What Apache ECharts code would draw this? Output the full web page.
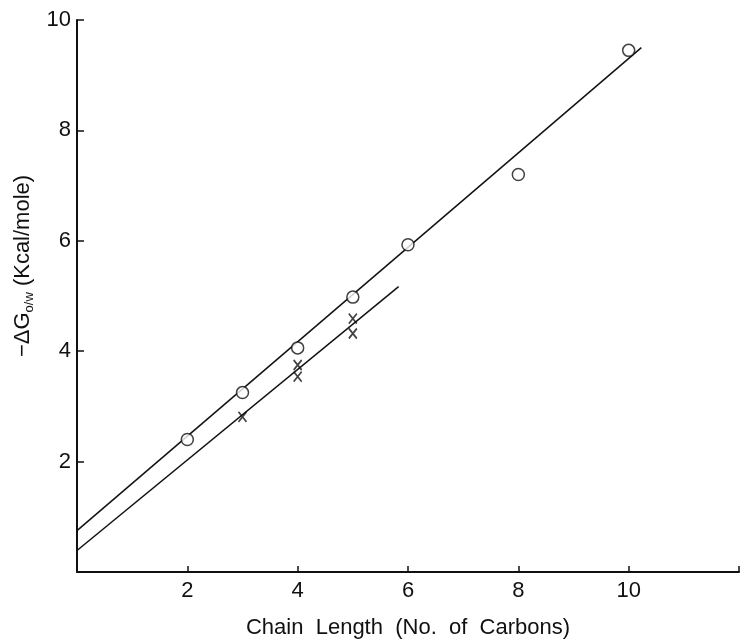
<!DOCTYPE html>
<html>
<head>
<meta charset="utf-8">
<title>Free energy vs chain length</title>
<script src="https://cdn.jsdelivr.net/npm/echarts@6/dist/echarts.min.js"></script>
<style>
  html, body { margin: 0; padding: 0; background: #fff; }
  #chart { width: 742px; height: 644px; }
</style>
</head>
<body>
<div id="chart"></div>
<script>
// circles (o) : chain length vs -dG
const circlePts = [[2, 2.40], [3, 3.25], [4, 4.06], [5, 4.98], [6, 5.93], [8, 7.20], [10, 9.45]];
// crosses (x)
const crossPts = [[3, 2.81], [4, 3.75], [4, 3.54], [5, 4.59], [5, 4.32]];
// hand drawn fit lines (end points)
const upperLine = [[0, 0.75], [10.23, 9.5]];
const lowerLine = [[0, 0.39], [5.83, 5.17]];
const xTicks = [2, 4, 6, 8, 10];
const yTicks = [2, 4, 6, 8, 10];

const ink = '#111';
const font = 'Liberation Sans';

let myChart = echarts.init(document.getElementById('chart'));
let option = {
    backgroundColor: '#fff',
    animation: false,
    grid: { left: 77, right: 1, top: 20, bottom: 71 },
    xAxis: {
        type: 'value',
        min: 0, max: 12, interval: 2,
        name: 'Chain  Length  (No.  of  Carbons)',
        nameLocation: 'middle',
        nameGap: 45,
        nameTextStyle: { fontFamily: font, fontSize: 22, color: ink },
        axisLine: { lineStyle: { color: ink, width: 2 } },
        axisTick: { inside: true, length: 6, lineStyle: { color: ink, width: 1.5 } },
        axisLabel: {
            margin: 8, fontFamily: font, fontSize: 22, color: ink,
            formatter: v => xTicks.indexOf(v) >= 0 ? String(v) : ''
        },
        splitLine: { show: false }
    },
    yAxis: {
        type: 'value',
        min: 0, max: 10, interval: 2,
        name: '{t|−ΔG}{s|o/w}{t| (Kcal/mole)}',
        nameLocation: 'middle',
        nameGap: 33,
        nameTextStyle: {
            padding: [0, 0, 0, 60],
            rich: {
                t: { fontFamily: font, fontSize: 22, color: ink, lineHeight: 26 },
                s: { fontFamily: font, fontSize: 13, color: ink, lineHeight: 26, padding: [12, 0, 0, 0] }
            }
        },
        axisLine: { lineStyle: { color: ink, width: 2 } },
        axisTick: { inside: true, length: 7, lineStyle: { color: ink, width: 1.5 } },
        axisLabel: {
            margin: 6, fontFamily: font, fontSize: 22, color: ink,
            formatter: v => yTicks.indexOf(v) >= 0 ? String(v) : ''
        },
        splitLine: { show: false }
    },
    series: [
        {
            type: 'line', data: upperLine, symbol: 'none', silent: true,
            lineStyle: { color: ink, width: 1.5 }, z: 1
        },
        {
            type: 'line', data: lowerLine, symbol: 'none', silent: true,
            lineStyle: { color: ink, width: 1.5 }, z: 1
        },
        {
            type: 'scatter', data: circlePts,
            symbol: 'circle', symbolSize: 12,
            itemStyle: { color: '#fff', borderColor: ink, borderWidth: 1.5 }, z: 3
        },
        {
            type: 'scatter', data: crossPts,
            symbol: 'path://M0,0L8,10M8,0L0,10', symbolSize: [8, 10],
            itemStyle: { color: 'rgba(0,0,0,0)', borderColor: ink, borderWidth: 1.8 }, z: 3
        }
    ]
};
myChart.setOption(option);
</script>
</body>
</html>
